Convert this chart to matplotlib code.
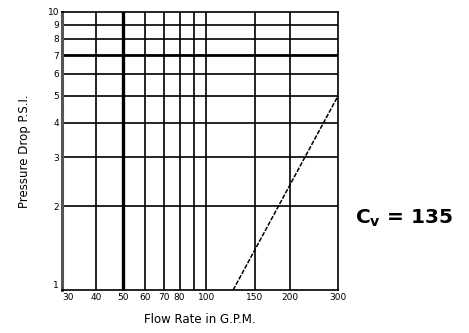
import numpy as np
import matplotlib
matplotlib.use("Agg")
import matplotlib.pyplot as plt
from matplotlib.ticker import NullFormatter, NullLocator

# data
flow_gpm = [125, 300]
pressure_psi = [1, 5]

x_grid = [40, 50, 60, 70, 80, 90, 100, 150, 200]
y_grid = [2, 3, 4, 5, 6, 7, 8, 9]
x_ticks = [30, 40, 50, 60, 70, 80, 100, 150, 200, 300]
x_ticklabels = ["30", "40", "50", "60", "70", "80", "100", "150", "200", "300"]
y_ticks = [1, 2, 3, 4, 5, 6, 7, 8, 9, 10]
y_ticklabels = [str(v) for v in y_ticks]
thick_x = [50]
thick_y = [7]

fig = plt.figure(figsize=(4.69, 3.33), dpi=100)
ax = fig.add_axes([0.132, 0.129, 0.589, 0.835])
ax.set_xscale("log")
ax.set_yscale("log")
ax.set_xlim(30, 300)
ax.set_ylim(1, 10)

for xv in x_grid:
    ax.axvline(xv, color="black", lw=2.4 if xv in thick_x else 1.2, zorder=1)
for yv in y_grid:
    ax.axhline(yv, color="black", lw=2.0 if yv in thick_y else 1.2, zorder=1)

ax.plot(flow_gpm, pressure_psi, color="black", lw=1.1, ls=(0, (3, 1)), zorder=2)

ax.xaxis.set_minor_locator(NullLocator())
ax.yaxis.set_minor_locator(NullLocator())
ax.xaxis.set_minor_formatter(NullFormatter())
ax.yaxis.set_minor_formatter(NullFormatter())
ax.set_xticks(x_ticks)
ax.set_xticklabels(x_ticklabels, fontsize=6.5)
ax.set_yticks(y_ticks)
ax.set_yticklabels(y_ticklabels, fontsize=6.5)
ax.tick_params(length=0, pad=2)
ax.get_xticklabels()[0].set_ha("left")
ax.get_yticklabels()[0].set_va("bottom")

for side in ["top", "right", "bottom"]:
    ax.spines[side].set_linewidth(1.2)
ax.spines["left"].set_linewidth(2.2)
ax.spines["left"].set_color("#555555")

ax.set_xlabel("Flow Rate in G.P.M.", fontsize=8.5, labelpad=8)
ax.set_ylabel("Pressure Drop P.S.I.", fontsize=8.5, labelpad=12)

fig.text(0.757, 0.345, r"$\mathbf{C_v}$ = 135", fontsize=14.5, fontweight="bold",
         va="center", ha="left")

plt.savefig("out.png", dpi=100)
